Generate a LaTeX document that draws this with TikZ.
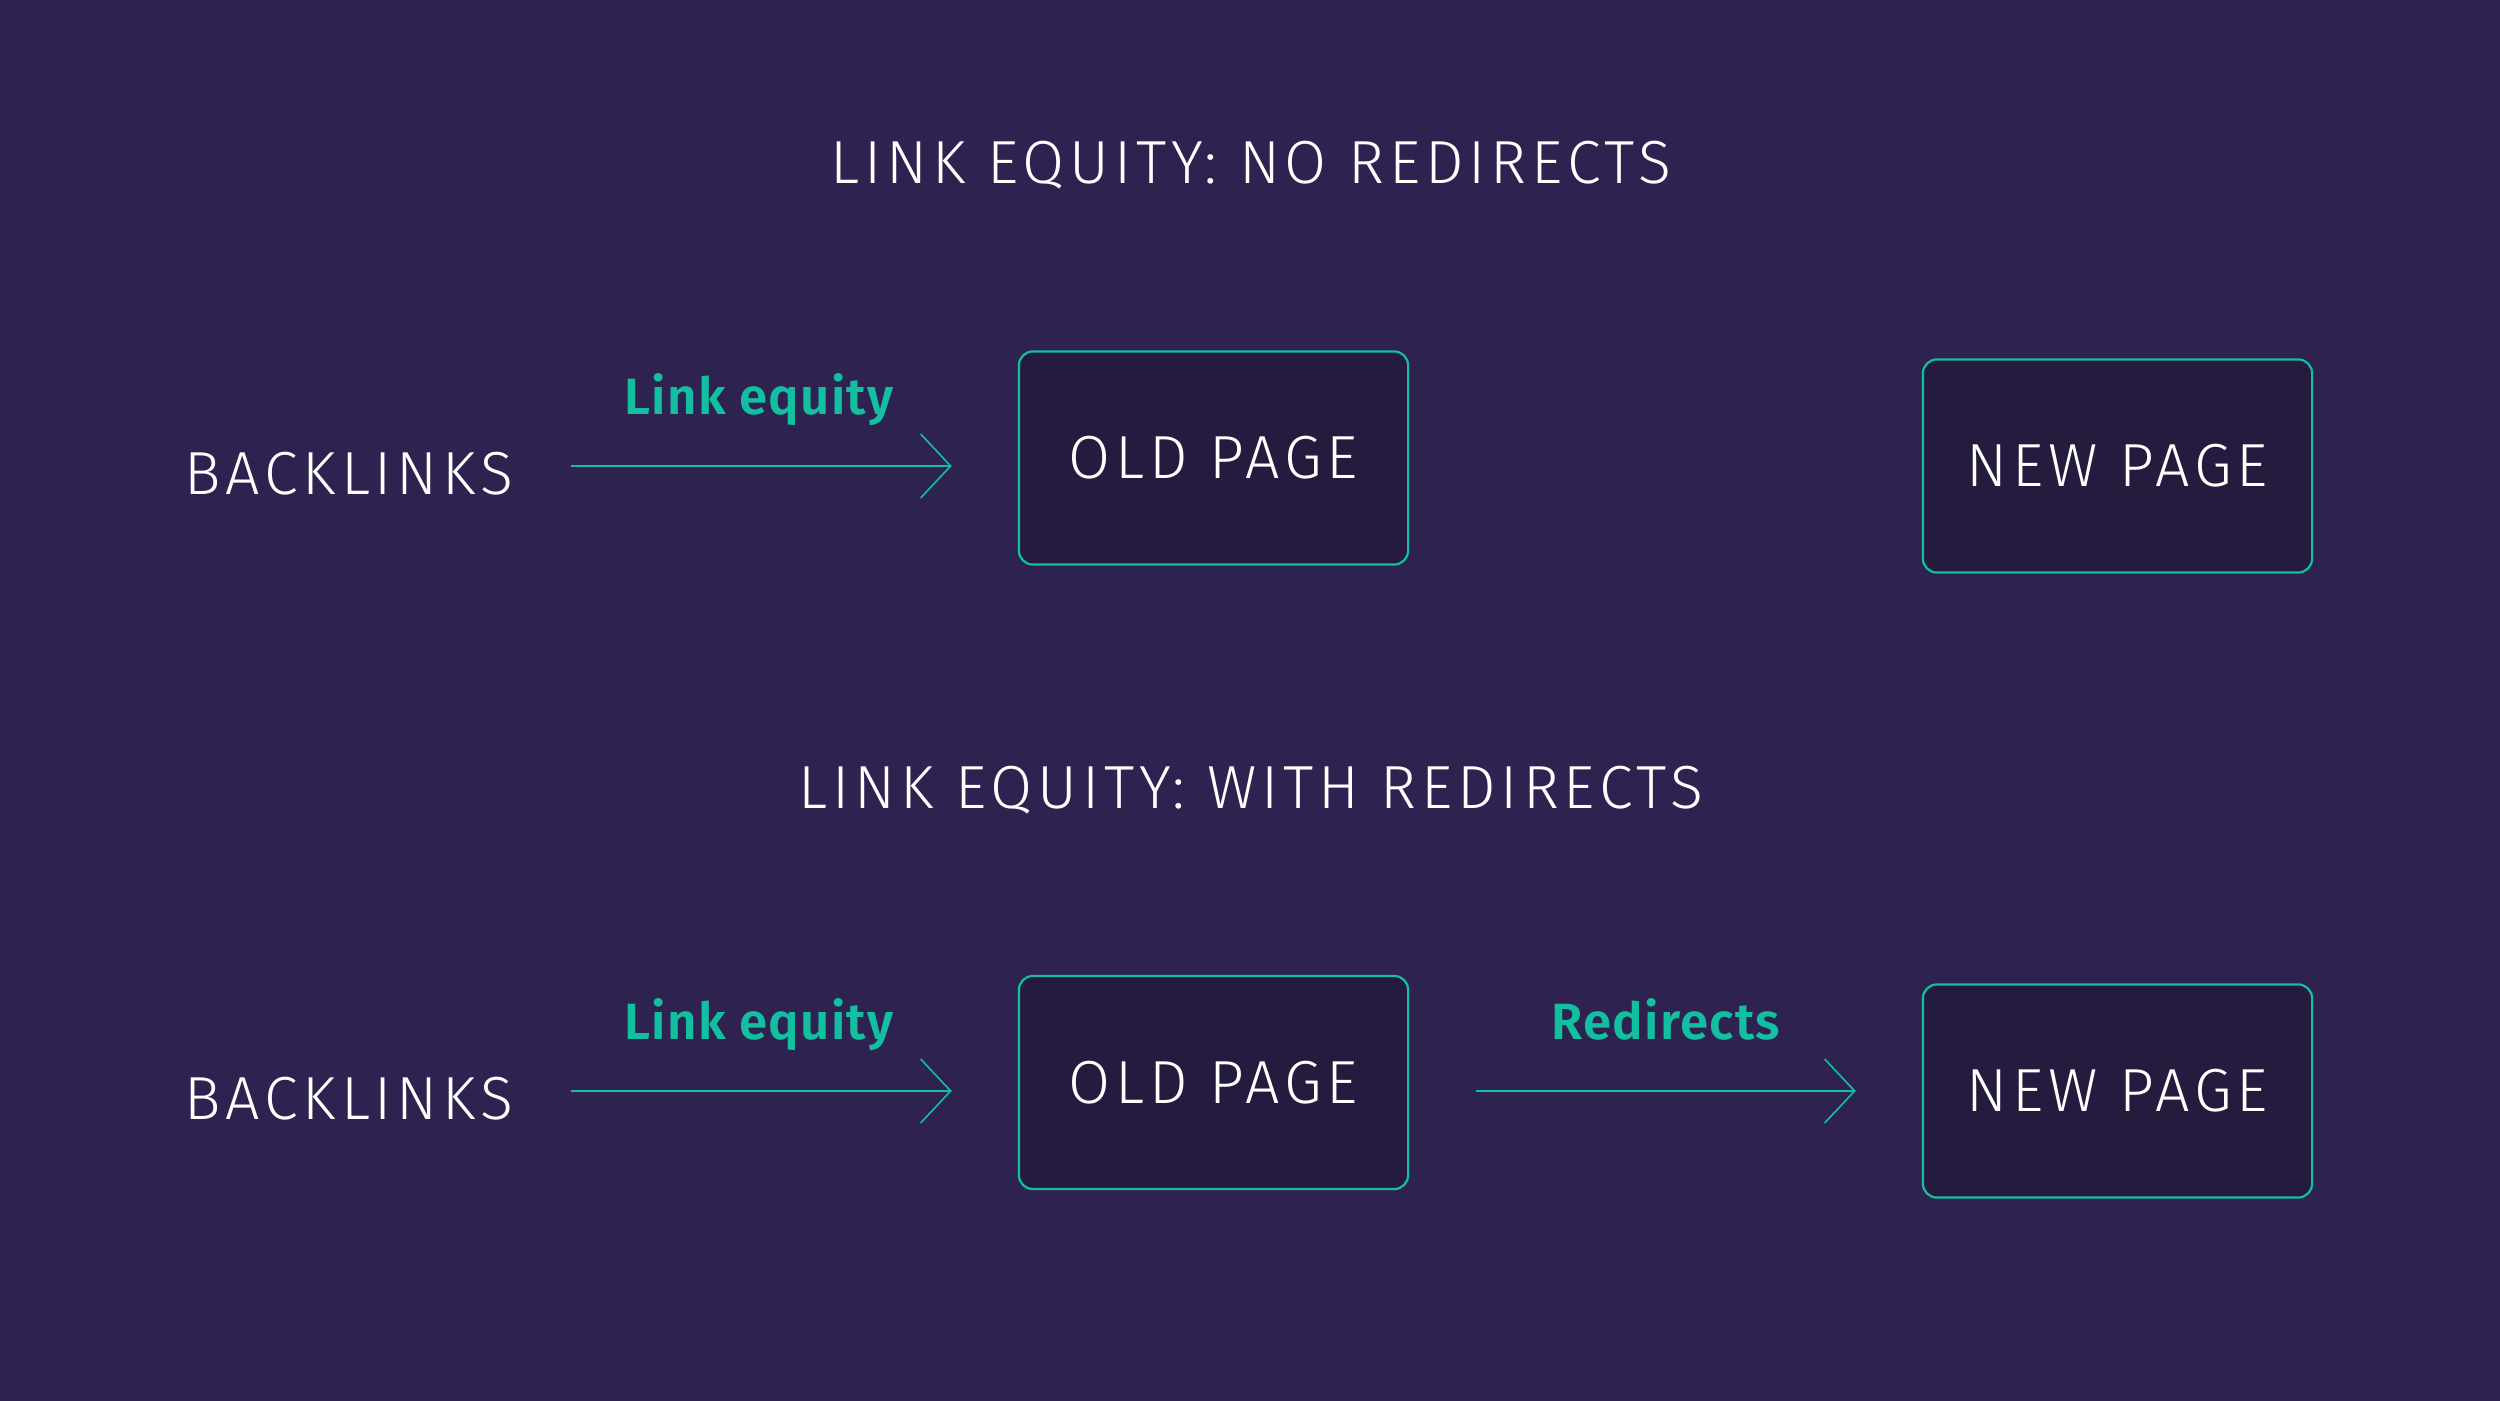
\documentclass[tikz,border=0pt]{standalone}
\usepackage{fontspec}
\usetikzlibrary{arrows.meta}
\IfFontExistsTF{Fira Sans Light}
	{\newfontfamily\capsfont{Fira Sans Light}[LetterSpace=8]}
	{\newfontfamily\capsfont{Fira Sans}[LetterSpace=8]}
\IfFontExistsTF{Fira Sans SemiBold}
	{\newfontfamily\labelfont{Fira Sans SemiBold}[LetterSpace=2.5]}
	{\newfontfamily\labelfont{Fira Sans}[FakeBold=2,LetterSpace=2.5]}
\definecolor{bgpurple}{HTML}{2E2350}
\definecolor{boxfill}{HTML}{241B3E}
\definecolor{eqgreen}{HTML}{12BFA0}

\tikzset{
	caption/.style={text=white,inner sep=0pt,font=\capsfont\fontsize{17.3}{20}\selectfont},
	pagebox/.style={caption,draw=eqgreen,fill=boxfill,line width=0.022cm,rounded corners=0.14cm,
		minimum width=3.89cm,minimum height=2.13cm},
	eqlabel/.style={text=eqgreen,inner sep=0pt,anchor=base,font=\labelfont\fontsize{14.5}{17}\selectfont},
	flow/.style={draw=eqgreen,line width=0.016cm,-{Straight Barb[length=0.3cm,width=0.64cm]}},
}

\begin{document}
\begin{tikzpicture}[x=0.01cm,y=-0.01cm]
			\useasboundingbox (0,0) rectangle (2500,1401);
			\fill[bgpurple] (0,0) rectangle (2500,1401);
			
			\node[caption] (t1) at (1251,165) {LINK EQUITY: NO REDIRECTS};
			\node[caption] (bl1) at (349,474) {BACKLINKS};
			\node[pagebox] (old1) at (1213.5,458) {OLD PAGE};
			\node[pagebox] (new1) at (2117.5,466) {NEW PAGE};
			\node[eqlabel] (le1) at (759,415) {Link equity};
			
			\node[caption] (t2) at (1251,790) {LINK EQUITY: WITH REDIRECTS};
			\node[caption] (bl2) at (349,1099) {BACKLINKS};
			\node[pagebox] (old2) at (1213.5,1082.5) {OLD PAGE};
			\node[pagebox] (new2) at (2117.5,1091) {NEW PAGE};
			\node[eqlabel] (le2) at (759,1040) {Link equity};
			\node[eqlabel] (rd2) at (1666,1039) {Redirects};
			
			\draw[flow,shorten <=0.57cm,shorten >=0.66cm] (bl1.east |- new1.west) -- (old1.west |- new1.west);
			\draw[flow,shorten <=0.57cm,shorten >=0.66cm] (bl2.east |- new2.west) -- (old2.west |- new2.west);
			\draw[flow,shorten <=0.67cm,shorten >=0.66cm] (old2.east |- new2.west) -- (new2.west);
		\end{tikzpicture}
\end{document}
